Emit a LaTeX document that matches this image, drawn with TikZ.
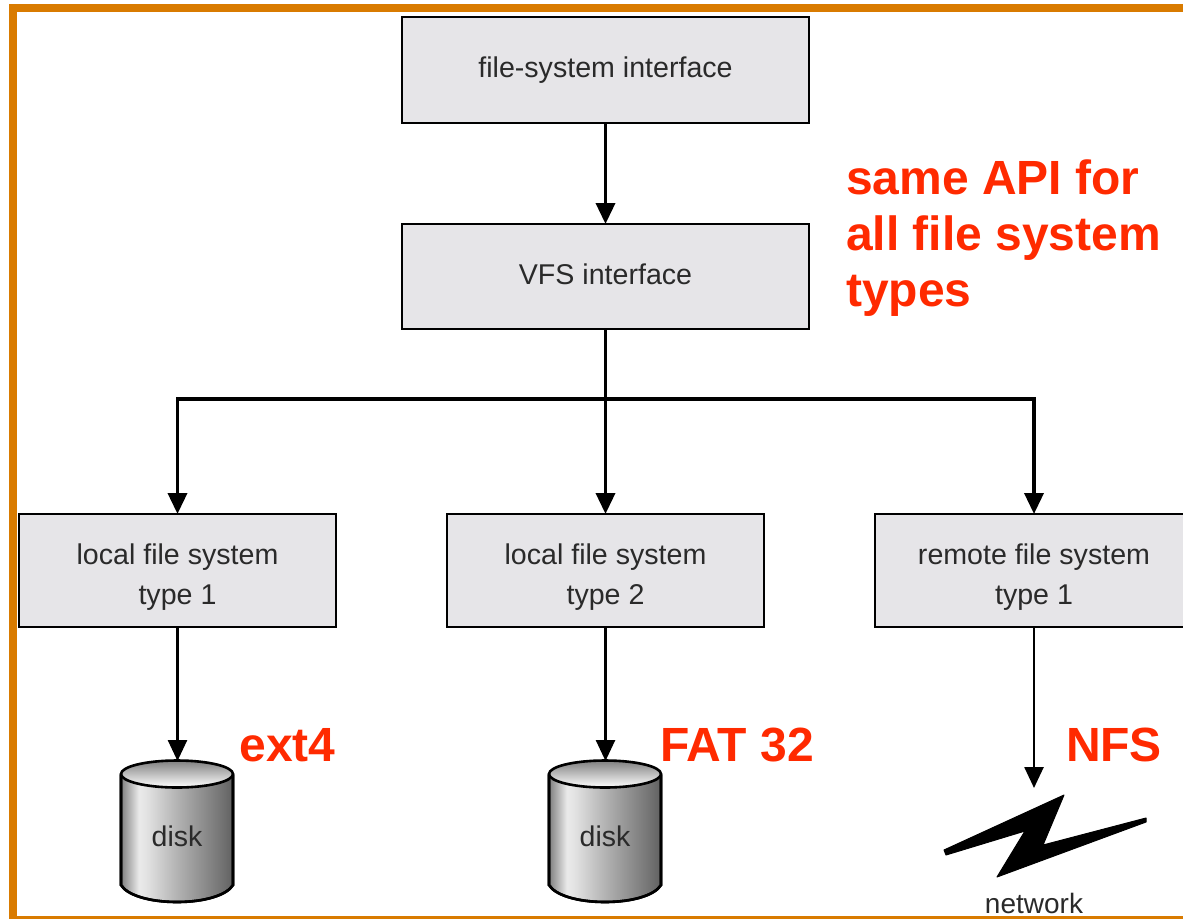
\documentclass[tikz,border=0pt]{standalone}
\usepackage{fontspec}
\setmainfont{Liberation Sans}
\usetikzlibrary{arrows.meta}
\definecolor{frameorange}{HTML}{D97B00}
\definecolor{boxfill}{HTML}{E6E5E8}
\definecolor{redtext}{HTML}{FF2A00}
\definecolor{inktext}{HTML}{2A2A2A}
\pgfdeclarehorizontalshading{diskside}{100bp}{
  color(0bp)=(black!50);
  color(25bp)=(black!50);
  color(33bp)=(black!8);
  color(37bp)=(black!12);
  color(50bp)=(black!30);
  color(62bp)=(black!45);
  color(70bp)=(black!55);
  color(75bp)=(black!62);
  color(100bp)=(black!62)}
\pgfdeclareverticalshading{disktop}{100bp}{
  color(0bp)=(white);
  color(25bp)=(white);
  color(75bp)=(black!50);
  color(100bp)=(black!50)}
\tikzset{
  fsbox/.style={draw=black,fill=boxfill,line width=2.8pt,inner sep=0pt,outer sep=0pt,align=center,
    text=inktext,font=\fontsize{28.6}{40}\selectfont},
  thickarrow/.style={line width=3.6pt,draw=black,-{Triangle[width=19pt,length=21pt]}},
  thinarrow/.style={line width=2.6pt,draw=black,-{Triangle[width=19pt,length=21pt]}},
  stemline/.style={line width=3.6pt,draw=black},
  busline/.style={line width=3.6pt,draw=black,line cap=rect},
  redlabel/.style={text=redtext,font=\bfseries\fontsize{48}{56}\selectfont,inner sep=0pt,align=left},
  grey label/.style={text=inktext,font=\fontsize{28.5}{32}\selectfont,inner sep=0pt},
  diskline/.style={draw=black,line width=2.6pt}
}
\newcommand{\diskdraw}[1]{%
  \path[shading=diskside,diskline]
    (#1-56,775) -- (#1-56,885) .. controls (#1-50,895) and (#1-28,902) .. (#1,902)
    .. controls (#1+28,902) and (#1+50,895) .. (#1+56,885) -- (#1+56,775) -- cycle;
  \draw[diskline] (#1-56,775) -- (#1-56,885) .. controls (#1-50,895) and (#1-28,902) .. (#1,902)
    .. controls (#1+28,902) and (#1+50,895) .. (#1+56,885) -- (#1+56,775);
  \path[shading=disktop] (#1,774) ellipse [x radius=56,y radius=13.5];
  \draw[diskline] (#1,774) ellipse [x radius=56,y radius=13.5];
}
\newcommand{\lowertext}{\rule{0pt}{33pt}}
\begin{document}
\begin{tikzpicture}[x=1pt,y=-1pt]
\useasboundingbox (0,0) rectangle (1183,919);
\clip (0,0) rectangle (1183,919);
\fill[white] (0,0) rectangle (1183,919);
% frame
\fill[frameorange] (9,4) rectangle (1183,12);
\fill[frameorange] (9,4) rectangle (17,919);
\fill[frameorange] (9,916) rectangle (1183,918.5);
% boxes
\node[fsbox,minimum width=407pt,minimum height=106pt] (fsi) at (605.5,70) {file-system interface};
\node[fsbox,minimum width=407pt,minimum height=105pt] (vfs) at (605.5,276.5) {VFS interface\rule[-4pt]{0pt}{1pt}};
\node[fsbox,minimum width=317pt,minimum height=113pt] (lfa) at (177.5,570.5) {\lowertext local file system\\type 1};
\node[fsbox,minimum width=317pt,minimum height=113pt] (lfb) at (605.5,570.5) {\lowertext local file system\\type 2};
\node[fsbox,minimum width=318pt,minimum height=113pt] (rfs) at (1034,570.5) {\lowertext remote file system\\type 1};
% junctions and free ends
\coordinate (busm) at (605.5,399);
\coordinate (busl) at (177.5,399);
\coordinate (busr) at (1034,399);
\coordinate (diskatop) at (177.5,761);
\coordinate (diskbtop) at (605.5,761);
\coordinate (netend) at (1034,788);
% disks
\diskdraw{177}
\diskdraw{605}
\node[grey label] (diska) at (177,836) {disk};
\node[grey label] (diskb) at (605,836) {disk};
% network bolt
\fill[black,draw=black,line width=1pt,line join=round] (944,850) -- (1064,795) -- (1043,845) -- (1146,818) -- (1146,822) -- (997,877) -- (1025,831) -- (946,855) -- cycle;
\node[grey label,font=\fontsize{28}{32}\selectfont] (net) at (1034,903) {network};
% connectors
\draw[thickarrow] (fsi.south) -- (vfs.north);
\draw[stemline] (vfs.south) -- (busm);
\draw[busline] (busl) -- (busr);
\draw[thickarrow] (busm) -- (lfb.north);
\draw[thickarrow] (busl) -- (lfa.north);
\draw[thickarrow] (busr) -- (rfs.north);
\draw[thinarrow] (lfa.south) -- (diskatop);
\draw[thinarrow] (lfb.south) -- (diskbtop);
\draw[thinarrow] (rfs.south) -- (netend);
% red notes
\node[redlabel,anchor=north west] (api) at (846,160) {same API for\\all file system\\types};
\node[redlabel,anchor=center] (ext) at (287.5,745) {ext4};
\node[redlabel,anchor=center] (fat) at (737,745) {FAT 32};
\node[redlabel,anchor=center] (nfs) at (1114,745) {NFS};
\end{tikzpicture}
\end{document}
